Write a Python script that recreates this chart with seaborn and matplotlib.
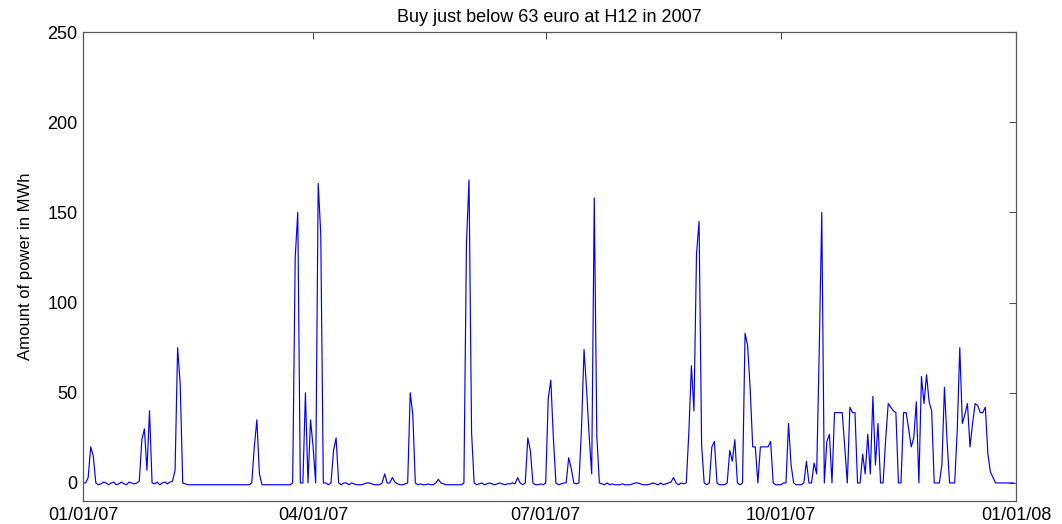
import pandas as pd
import matplotlib
matplotlib.use("Agg")
import matplotlib.pyplot as plt
import matplotlib.dates as mdates
import seaborn as sns

# Daily amounts (MWh), one list per month of 2007
jan = [0, 0, 3, 20, 15, 0, -1, -0.5, 0.5, 0, -1, 0, 0.5, -1, -0.5, 0.5, -0.5, -1, 0.5, 0,
       -0.5, 0, 1, 24, 30, 7, 40, 0, -0.5, 0.5, -1]
feb = [0, 0.5, -0.5, 0.5, 1, 7, 75, 55, 0, -0.5,
       -1, -1, -1, -1, -1, -1, -1, -1, -1, -1, -1, -1, -1, -1, -1, -1, -1, -1]
mar = [-1, -1, -1, -1, -1, -1, -1, 0, 20, 35, 5,
       -1, -1, -1, -1, -1, -1, -1, -1, -1, -1, -1, -1,
       0, 125, 150, 0, 0, 50, 0, 35]
apr = [20, 0, 166, 138, 0, 0, -1, 0, 18, 25, 0, -1, 0, 0, -1, 0, -0.5, -1, -1, -1,
       -0.5, 0, 0, -0.5, -1, -1, -1, 0, 5, 0]
may = [0, 3, 0.5, -0.5, -1, -1, -0.5, 0, 50, 38, 0, -1, -0.5, -1, -1, -0.5, -1, -1, 0, 2,
       0, -0.5, -1, -1, -1, -1, -1, -1, -1, 0, 133]
jun = [168, 28, 0, -1, -0.5, 0, -1, -0.5, 0, -0.5, -1, -0.5, 0, -0.5, -1, -0.5, -0.5, 0, -0.5, 3,
       0, -1, 0, 25, 18, 0, -1, -1, -0.5, -1]
jul = [0, 47, 57, 25, 0, -1, -0.5, 0, 0, 14, 8, 0, -0.5, 0, 30, 74, 52, 26, 5, 158,
       26, 0, -0.5, -1, 0, -1, -0.5, -1, -1, -1, -0.5]
aug = [-1, -1, -1, -0.5, 0, 0, -0.5, -1, -1, -1, -0.5, 0, -0.5, -1, 0, -1, -0.5, 0, 0.5, 3,
       0, -1, 0, -0.5, 0, 28, 65, 40, 127, 145, 21]
sep = [0, -1, 0, 20, 23, 0, -1, -1, -1, 0, 18, 12, 24, 0, -1, 0, 83, 76, 52, 20,
       20, 0, 20, 20, 20, 20, 23, 0, -1, -1]
oct_ = [-1, 0, 0, 33, 10, 0, -1, -1, -1, 0, 12, 0, 0, 11, 5, 72, 150, 0, 23, 27,
        0, 39, 39, 39, 39, 20, 0, 42, 39, 39, 0]
nov = [0, 16, 5, 27, 5, 48, 10, 33, 0, 0, 24, 44, 42, 40, 39, 0, 0, 39, 39, 30,
       20, 25, 45, 0, 59, 44, 60, 45, 40, 0]
dec = [0, 0, 10, 53, 24, 0, 0, 0, 29, 75, 33, 38, 44, 20, 33, 44, 43, 39, 39, 42,
       16, 6, 3, 0, 0, 0, 0, 0, 0, 0, 0]

months = [jan, feb, mar, apr, may, jun, jul, aug, sep, oct_, nov, dec]
values = [v for m in months for v in m]
dates = pd.date_range("2007-01-01", periods=len(values), freq="D")
df = pd.DataFrame({"date": dates, "mwh": values})

sns.set_style("white")
plt.rcParams["font.family"] = ["Liberation Sans", "DejaVu Sans"]
plt.rcParams["text.color"] = "black"
plt.rcParams["axes.labelcolor"] = "black"

fig = plt.figure(figsize=(10.62, 5.24), dpi=100)
ax = fig.add_axes([0.0782, 0.0439, 0.8785, 0.895])

sns.lineplot(data=df, x="date", y="mwh", color="#0000ff", linewidth=0.85, ax=ax)

ax.set_xlim(pd.Timestamp("2007-01-01"), pd.Timestamp("2008-01-01"))
ax.set_ylim(-10, 250)
ax.set_yticks([0, 50, 100, 150, 200, 250])
ax.xaxis.set_major_locator(mdates.MonthLocator(bymonth=[1, 4, 7, 10]))
ax.xaxis.set_major_formatter(mdates.DateFormatter("%m/%d/%y"))

ax.set_xlabel("")
ax.set_ylabel("Amount of power in MWh", fontsize=12, labelpad=10, color="black")
ax.set_title("Buy just below 63 euro at H12 in 2007", fontsize=13, pad=7, color="black")

ax.tick_params(direction="in", top=True, right=True, length=5, width=0.8,
               color="0.3", labelcolor="black", labelsize=13, pad=4)
for s in ax.spines.values():
    s.set_visible(True)
    s.set_color("0.35")
    s.set_linewidth(0.9)

fig.savefig("out.png", dpi=100)
